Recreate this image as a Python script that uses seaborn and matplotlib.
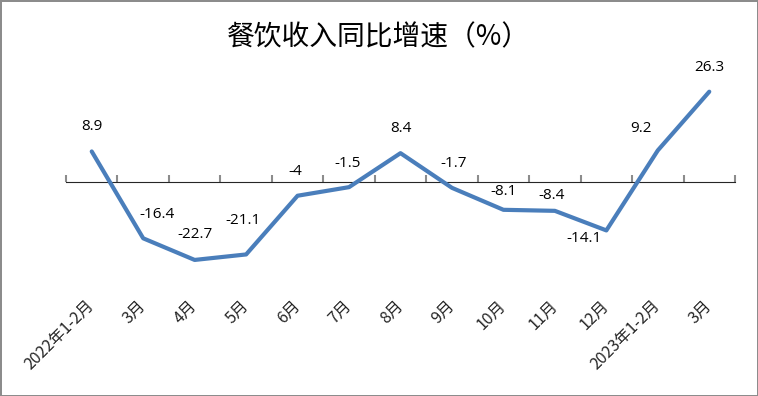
import pandas as pd
import numpy as np
import matplotlib.pyplot as plt
import seaborn as sns

# 数据
months = ['2022年1-2月', '3月', '4月', '5月', '6月', '7月', '8月',
          '9月', '10月', '11月', '12月', '2023年1-2月', '3月']
growth = [8.9, -16.4, -22.7, -21.1, -4, -1.5, 8.4, -1.7, -8.1, -8.4, -14.1, 9.2, 26.3]

# 数据标签偏移（像素）
label_dx = [0, 14, 0, -3, -2, -1, 0, 2, 0, -3, -22, -17, 0]
label_dy = [25, 24, 25, 34, 24, 24, 25, 24, 18, 15, -8, 22, 24]

df = pd.DataFrame({'pos': np.arange(len(months)), 'value': growth})

sns.set_style('white')
plt.rcParams['font.family'] = ['Noto Sans CJK SC', 'DejaVu Sans']

fig = plt.figure(figsize=(7.58, 3.96), dpi=100, linewidth=2, edgecolor='#8c8c8c')
ax = fig.add_axes([66 / 758, 111 / 396, 669 / 758, 206 / 396])

sns.lineplot(data=df, x='pos', y='value', color='#4a7ebb', linewidth=3, ax=ax)

for i, v in enumerate(growth):
    ax.annotate(f'{v:g}', (i, v), xytext=(label_dx[i], label_dy[i]),
                textcoords='offset pixels', ha='center', va='center',
                fontsize=11, color='black', family=['Open Sans', 'DejaVu Sans'])

ax.set_xlim(-0.5, len(months) - 0.5)
ax.set_ylim(-30, 30)
for s in ax.spines.values():
    s.set_visible(False)
ax.set_yticks([])
ax.set_xlabel('')
ax.set_ylabel('')

# 类别标签
ax.set_xticks(np.arange(len(months)))
ax.set_xticklabels(months, rotation=45, ha='right', va='center',
                   rotation_mode='anchor', fontsize=11.5)
ax.tick_params(axis='x', length=0, pad=13)

# 零轴及刻度
zero_axis = ax.secondary_xaxis(0.5)
zero_axis.set_xticks(np.arange(len(months) + 1) - 0.5)
zero_axis.set_xticklabels([])
zero_axis.tick_params(axis='x', direction='out', length=5, color='#8c8c8c', width=1.5)
zero_axis.spines['bottom'].set_color('#8c8c8c')
zero_axis.spines['bottom'].set_linewidth(1.5)

fig.text(0.5, 0.905, '餐饮收入同比增速（%）', ha='center', va='center',
         fontsize=20, fontweight='medium', color='black')

plt.savefig('out.png', dpi=100)
